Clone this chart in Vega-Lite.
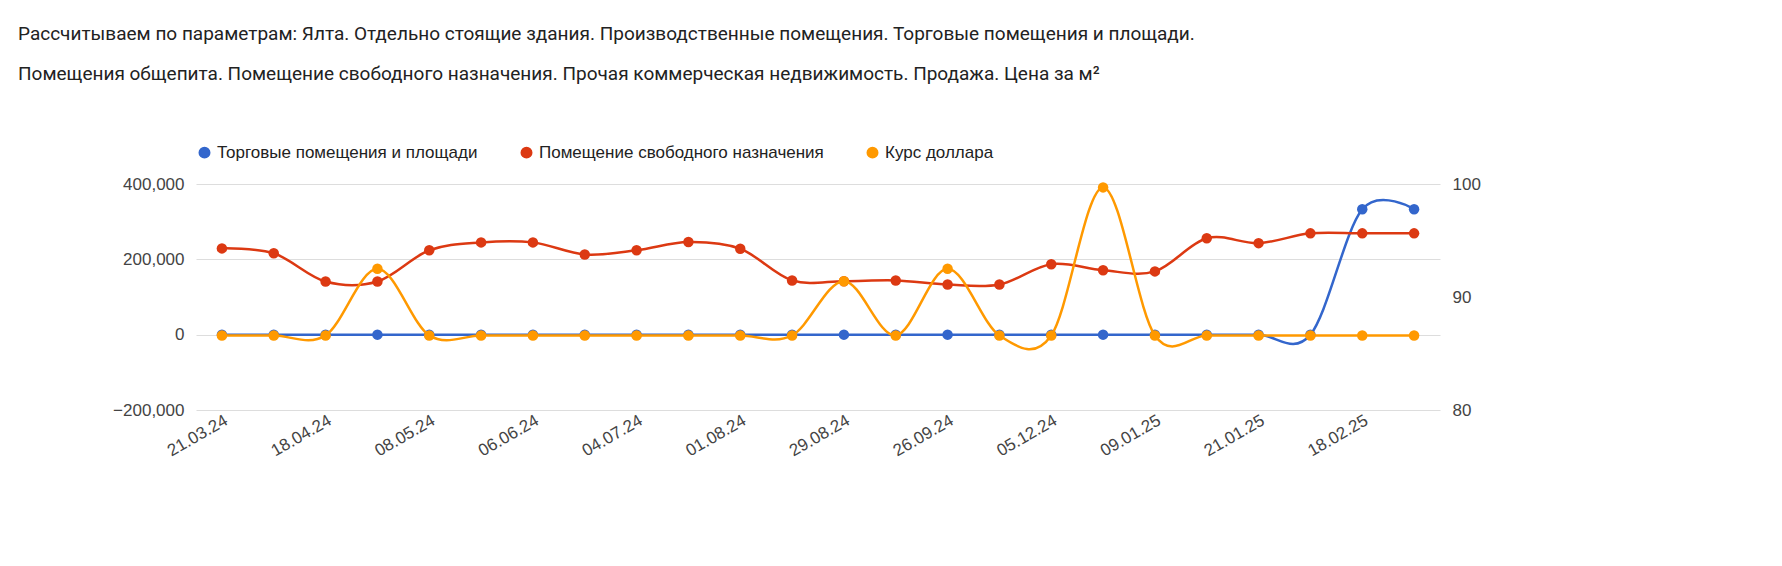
{
"$schema":"https://vega.github.io/schema/vega-lite/v6.json",
"width":1244,"height":226,
"autosize":{"type":"none"},
"padding":{"left":196,"top":184,"right":342,"bottom":156},
"background":"white",
"title":{"text":["Рассчитываем по параметрам: Ялта. Отдельно стоящие здания. Производственные помещения. Торговые помещения и площади.","Помещения общепита. Помещение свободного назначения. Прочая коммерческая недвижимость. Продажа. Цена за м²"],"anchor":"start","frame":"group","dx":-178,"offset":60,"font":"Roboto","fontSize":19,"fontWeight":"normal","color":"#222","lineHeight":40},
"config":{"font":"Arial","view":{"stroke":null},"axis":{"labelFont":"Liberation Sans","labelFontSize":17,"labelColor":"#444","domain":false,"ticks":false,"titleFontSize":0}},
"data":{"values":[
{"date":"21.03.24","trade":0,"free":229000,"usd":86.6},
{"date":"04.04.24","trade":0,"free":216000,"usd":86.6},
{"date":"18.04.24","trade":0,"free":141000,"usd":86.6},
{"date":"25.04.24","trade":0,"free":141000,"usd":92.5},
{"date":"08.05.24","trade":0,"free":224000,"usd":86.6},
{"date":"23.05.24","trade":0,"free":245000,"usd":86.6},
{"date":"06.06.24","trade":0,"free":245000,"usd":86.6},
{"date":"20.06.24","trade":0,"free":213000,"usd":86.6},
{"date":"04.07.24","trade":0,"free":224000,"usd":86.6},
{"date":"18.07.24","trade":0,"free":246000,"usd":86.6},
{"date":"01.08.24","trade":0,"free":228000,"usd":86.6},
{"date":"15.08.24","trade":0,"free":144000,"usd":86.6},
{"date":"29.08.24","trade":0,"free":142000,"usd":91.4},
{"date":"12.09.24","trade":0,"free":144000,"usd":86.6},
{"date":"26.09.24","trade":0,"free":133000,"usd":92.5},
{"date":"07.11.24","trade":0,"free":133000,"usd":86.6},
{"date":"05.12.24","trade":0,"free":187000,"usd":86.6},
{"date":"19.12.24","trade":0,"free":171000,"usd":99.7},
{"date":"09.01.25","trade":0,"free":168000,"usd":86.6},
{"date":"15.01.25","trade":0,"free":256000,"usd":86.6},
{"date":"21.01.25","trade":0,"free":243000,"usd":86.6},
{"date":"04.02.25","trade":0,"free":269000,"usd":86.6},
{"date":"18.02.25","trade":333000,"free":269000,"usd":86.6},
{"date":"04.03.25","trade":333000,"free":269000,"usd":86.6}
]},
"encoding":{"x":{"field":"date","type":"ordinal","sort":null,"scale":{"type":"point","padding":0.5},"axis":{"title":null,"labelAngle":-30,"grid":false,"values":["21.03.24","18.04.24","08.05.24","06.06.24","04.07.24","01.08.24","29.08.24","26.09.24","05.12.24","09.01.25","21.01.25","18.02.25"]}}},
"layer":[
{"layer":[
{"mark":{"type":"rule","color":"#333","strokeWidth":1.5},"encoding":{"y":{"datum":0}}}
,{"transform":[{"fold":["trade","free"],"as":["k","v"]},{"calculate":"datum.k=='trade'?'Торговые помещения и площади':'Помещение свободного назначения'","as":"series"}],
"mark":{"type":"line","interpolate":"cardinal","strokeWidth":2.5,"point":{"size":110,"filled":true}},
"encoding":{"y":{"field":"v","type":"quantitative","scale":{"domain":[-200000,400000]},"axis":{"title":null,"format":",d","values":[-200000,0,200000,400000],"grid":true,"gridColor":"#ddd","labelPadding":12}},
"color":{"field":"series","type":"nominal","scale":{"domain":["Торговые помещения и площади","Помещение свободного назначения","Курс доллара"],"range":["#3366cc","#dc3912","#ff9900"]},"legend":{"title":null,"orient":"none","legendX":0,"legendY":-40,"direction":"horizontal","labelFont":"Liberation Sans","labelFontSize":17,"labelColor":"#222","symbolType":"circle","symbolSize":110,"columnPadding":40,"labelLimit":400}},
"detail":{"field":"series"}}}
]},
{"mark":{"type":"line","interpolate":"cardinal","strokeWidth":2.5,"color":"#ff9900","point":{"size":110,"filled":true,"color":"#ff9900"}},
"encoding":{"y":{"field":"usd","type":"quantitative","scale":{"domain":[80,100]},"axis":{"orient":"right","title":null,"values":[80,90,100],"grid":false,"labelPadding":12}},"color":{"datum":"Курс доллара"}}}
],
"resolve":{"scale":{"y":"independent"}}
}
